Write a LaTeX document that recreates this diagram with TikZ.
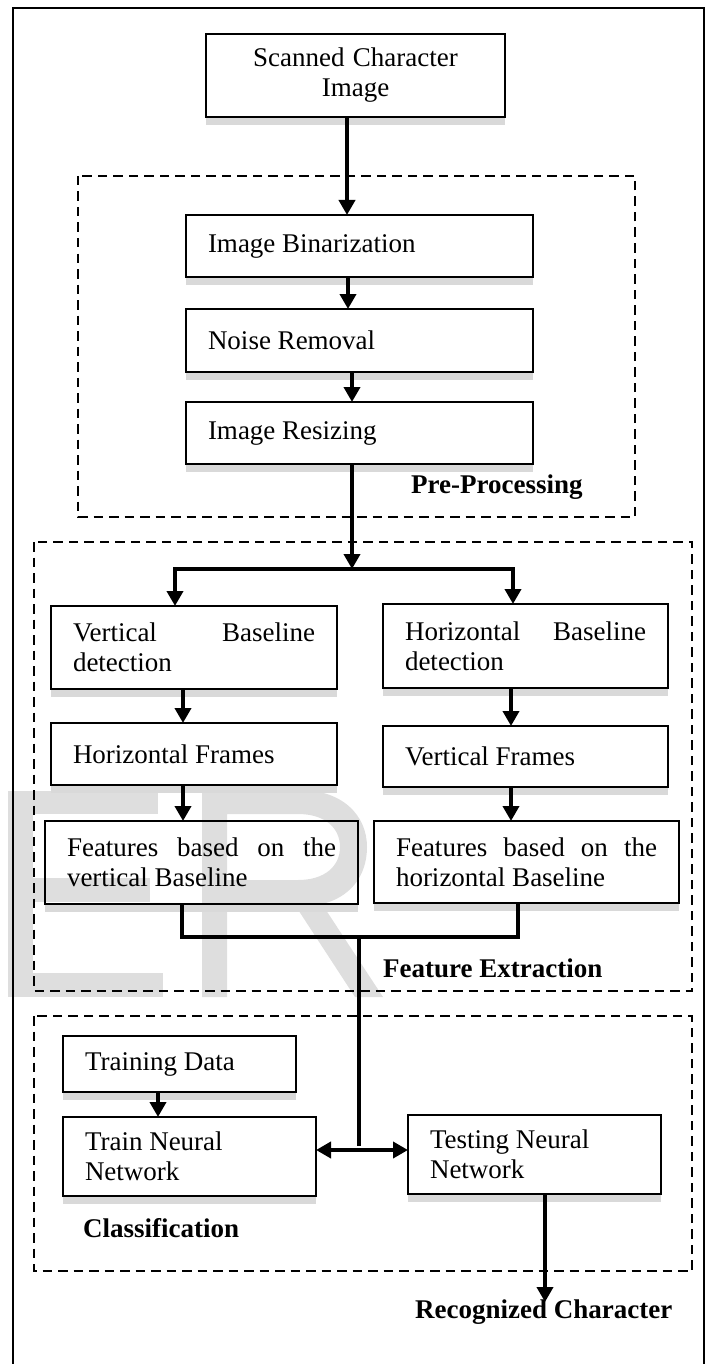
\documentclass[tikz,border=0pt]{standalone}
\usepackage{fontspec}
\setmainfont{Liberation Serif}
\usetikzlibrary{arrows.meta,backgrounds}
\definecolor{wm}{HTML}{DEDEDE}
\definecolor{shad}{HTML}{D9D9D9}
\begin{document}
\begin{tikzpicture}[x=1pt,y=-1pt,
  fbox/.style={draw=black, line width=2.6pt, inner xsep=22pt, inner ysep=0pt, outer sep=0pt,
    anchor=north west, align=left, font=\fontsize{27}{30}\selectfont,
    execute at begin node={\spaceskip=0pt\xspaceskip=0pt}},
  conn/.style={line width=3.8pt, line join=miter},
  arr/.style={conn, -{Triangle[width=16pt,length=15pt]}},
  darr/.style={conn, {Triangle[width=16pt,length=15pt]}-{Triangle[width=16pt,length=15pt]}},
  group/.style={draw=black, line width=2.6pt, dash pattern=on 9.5pt off 6pt},
  lbl/.style={font=\fontsize{27}{30}\selectfont\bfseries, anchor=base west, inner sep=0pt},
  shadowstrip/.style={fill=shad}
]
\useasboundingbox (0,0) rectangle (717,1364);

% outer frame
\draw[line width=2pt] (13,8) rectangle (704,1372);

% boxes
\node[fbox, minimum width=299pt, minimum height=83pt, text width=255pt, align=center] (scan) at (206,34) {Scanned Character\\Image};
\node[fbox, minimum width=347pt, minimum height=62pt, text width=303pt] (bin) at (186,215) {Image Binarization};
\node[fbox, minimum width=347pt, minimum height=63pt, text width=303pt] (noise) at (186,309) {Noise Removal};
\node[fbox, minimum width=347pt, minimum height=62pt, text width=303pt] (resize) at (186,402) {Image Resizing};

\node[fbox, minimum width=286pt, minimum height=83pt, text width=242pt] (vbd) at (51,606) {Vertical\hfill Baseline\\detection};
\node[fbox, minimum width=285pt, minimum height=84pt, text width=241pt] (hbd) at (383,604) {Horizontal\hfill Baseline\\detection};
\node[fbox, minimum width=286pt, minimum height=62pt, text width=242pt] (hfr) at (51,723) {Horizontal Frames};
\node[fbox, minimum width=285pt, minimum height=61pt, text width=241pt] (vfr) at (383,726) {Vertical Frames};
\node[fbox, minimum width=313pt, minimum height=83pt, text width=269pt] (fvb) at (45,821) {Features\hfill based\hfill on\hfill the\\vertical Baseline};
\node[fbox, minimum width=305pt, minimum height=82pt, text width=261pt] (fhb) at (374,821) {Features\hfill based\hfill on\hfill the\\horizontal Baseline};

\node[fbox, minimum width=233pt, minimum height=56pt, text width=189pt] (td) at (63,1036) {Training Data};
\node[fbox, minimum width=253pt, minimum height=79pt, text width=209pt] (trnn) at (63,1117) {Train Neural\\Network};
\node[fbox, minimum width=253pt, minimum height=79pt, text width=209pt] (tsnn) at (408,1115) {Testing Neural\\Network};

% group frames
\draw[group] (78,176) rectangle (635,517);
\draw[group] (34,542) rectangle (692,991);
\draw[group] (34,1016) rectangle (692,1271);

% group labels
\node[lbl] (prel) at (411,493) {Pre-Processing};
\node[lbl] (fel) at (383,977) {Feature Extraction};
\node[lbl] (cll) at (83,1237) {Classification};
\node[lbl] (rcl) at (415,1318) {Recognized Character};

% background: watermark and shadows
\begin{pgfonlayer}{background}
  \fill[wm] (8,791) rectangle (33,997);
  \fill[wm] (8,791) rectangle (158,814);
  \fill[wm] (8,878) rectangle (150,902);
  \fill[wm] (8,973) rectangle (163,997);
  \fill[wm, even odd rule] (202,997) -- (202,790) -- (300,790)
     .. controls (342,790) and (367,815) .. (367,847)
     .. controls (367,878) and (348,898) .. (322,904)
     -- (383,997) -- (355,997) -- (295,905) -- (227,905) -- (227,997) -- cycle
     (227,814) -- (298,814) .. controls (325,814) and (340,828) .. (340,847)
     .. controls (340,866) and (325,880) .. (298,880) -- (227,880) -- cycle;
  \foreach \b in {scan,bin,noise,resize,vbd,hbd,hfr,vfr,fvb,fhb,td,trnn,tsnn}{
    \fill[shadowstrip] (\b.south west) rectangle ([yshift=-8pt]\b.south east);
  }
\end{pgfonlayer}

% connectors
\coordinate (split) at (352,569);
\coordinate (splitL) at (175,569);
\coordinate (splitR) at (513,569);
\coordinate (mL) at (182,937);
\coordinate (mR) at (518,937);
\coordinate (join) at (359,937);
\coordinate (hub) at (359,1150);
\coordinate (rc) at (545,1302);

\draw[arr] ([xshift=-8.5pt]scan.south) -- ([xshift=-12.5pt]bin.north);
\draw[arr] ([xshift=-11.5pt]bin.south) -- ([xshift=-11.5pt]noise.north);
\draw[arr] ([xshift=-7.5pt]noise.south) -- ([xshift=-7.5pt]resize.north);
\draw[arr] ([xshift=-7.5pt]resize.south) -- (split);
\draw[darr] (vbd.north -| splitL) |- (split) -| (hbd.north -| splitR);

\draw[arr] ([xshift=-11pt]vbd.south) -- ([xshift=-11pt]hfr.north);
\draw[arr] ([xshift=-11pt]hfr.south) -- ([xshift=-18.5pt]fvb.north);
\draw[arr] ([xshift=-14.5pt]hbd.south) -- ([xshift=-14.5pt]vfr.north);
\draw[arr] ([xshift=-14.5pt]vfr.south) -- ([xshift=-15.5pt]fhb.north);

\draw[conn] ([xshift=-19.5pt]fvb.south) -- (mL) -- (mR) -- ([xshift=-8.5pt]fhb.south);
\draw[conn] (join) -- ([yshift=4pt]hub);
\draw[darr] (trnn.east |- hub) -- (tsnn.west |- hub);

\draw[arr] ([xshift=-21.5pt]td.south) -- ([xshift=-31.5pt]trnn.north);
\draw[arr] ([xshift=10.5pt]tsnn.south) -- (rc);
\end{tikzpicture}
\end{document}
